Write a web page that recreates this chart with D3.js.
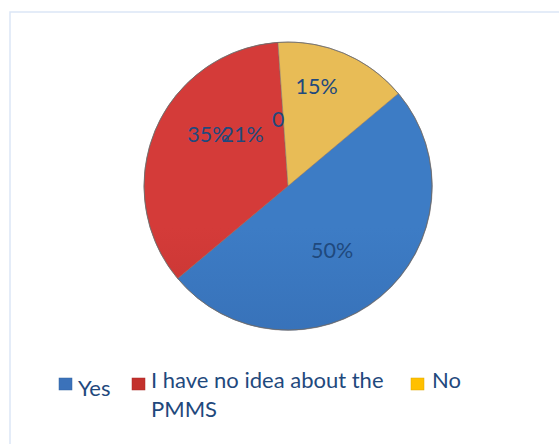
<!DOCTYPE html>
<html>
<head>
<meta charset="utf-8">
<script src="https://cdn.jsdelivr.net/npm/d3@7"></script>
<style>
  html, body { margin: 0; padding: 0; background: #fff; }
  svg { display: block; }
  text { font-family: Lato, "Open Sans", sans-serif; }
</style>
</head>
<body>
<svg id="chart" width="559" height="444"></svg>
<script>
// Survey answers and their shares (%)
const categories = ["Yes", "I have no idea about the PMMS", "No"];
const values = [50, 35, 15];
const valueLabels = ["50%", "35%", "15%"];
// Leftover labels that sit on the red slice
const extraLabels = ["21%", "0"];

const legendLines = [["Yes"], ["I have no idea about the", "PMMS"], ["No"]];

const sliceTop = ["#3d7cc5", "#d43b39", "#e8bc56"];
const sliceBottom = ["#2e61a5", "#ab2a26", "#e2ad45"];
const legendFill = ["#3b72ba", "#c3312d", "#ffc000"];
const textColor = "#1f497d";

const W = 559, H = 444;
const cx = 288, cy = 186, R = 144;
const deg = Math.PI / 180;
const startDeg = 50;

const svg = d3.select("#chart");
const defs = svg.append("defs");

// Frame
svg.append("rect")
  .attr("x", 10).attr("y", 12)
  .attr("width", W + 20).attr("height", H + 20)
  .attr("fill", "none")
  .attr("stroke", "#dbe6f6").attr("stroke-width", 1.5);

// Vertical gradients spanning the whole pie
categories.forEach((c, i) => {
  const g = defs.append("linearGradient")
    .attr("id", "grad" + i)
    .attr("gradientUnits", "userSpaceOnUse")
    .attr("x1", 0).attr("x2", 0)
    .attr("y1", cy - R).attr("y2", cy + R);
  g.append("stop").attr("offset", "0%").attr("stop-color", sliceTop[i]);
  g.append("stop").attr("offset", "100%").attr("stop-color", sliceBottom[i]);
});

const pie = d3.pie()
  .sort(null)
  .value(d => d)
  .startAngle(startDeg * deg)
  .endAngle(startDeg * deg + 2 * Math.PI);

const arcs = pie(values);
const arc = d3.arc().innerRadius(0).outerRadius(R);

const g = svg.append("g").attr("transform", `translate(${cx},${cy})`);

g.selectAll("path.slice")
  .data(arcs)
  .join("path")
  .attr("class", "slice")
  .attr("d", arc)
  .attr("fill", (d, i) => `url(#grad${i})`)
  .attr("stroke", "#7a6a66")
  .attr("stroke-width", 0.5);

// Outer rim
g.append("circle")
  .attr("r", R)
  .attr("fill", "none")
  .attr("stroke", "#6b6b6b")
  .attr("stroke-width", 0.8);

// Value labels, placed on a ring inside each slice
const labelShift = [5.5, 10, -7];      // degrees from slice middle
const labelRadius = [0.54, 0.66, 0.72]; // fraction of R
function polar(angleDeg, rf) {
  const a = angleDeg * deg;
  return [Math.sin(a) * rf * R, -Math.cos(a) * rf * R];
}
g.selectAll("text.val")
  .data(arcs)
  .join("text")
  .attr("class", "val")
  .attr("transform", (d, i) => {
    const mid = (d.startAngle + d.endAngle) / 2 / deg + labelShift[i];
    const [x, y] = polar(mid, labelRadius[i]);
    return `translate(${x},${y})`;
  })
  .attr("text-anchor", "middle")
  .attr("dy", "0.36em")
  .attr("font-size", 21.5)
  .attr("fill", textColor)
  .text((d, i) => valueLabels[i]);

// Stray labels inside the red slice
const extraPos = [[319, 0.48], [351.6, 0.47]];
g.selectAll("text.extra")
  .data(extraLabels)
  .join("text")
  .attr("class", "extra")
  .attr("transform", (d, i) => {
    const [x, y] = polar(extraPos[i][0], extraPos[i][1]);
    return `translate(${x},${y})`;
  })
  .attr("text-anchor", "middle")
  .attr("dy", "0.36em")
  .attr("font-size", 21.5)
  .attr("fill", textColor)
  .text(d => d);

// Legend
const legendX = [59, 132, 411];
const legendTextX = [78, 151, 432];
const legendBaseline = [396, 388, 388];
const lg = svg.append("g");
categories.forEach((c, i) => {
  lg.append("rect")
    .attr("x", legendX[i]).attr("y", 378)
    .attr("width", 13).attr("height", 12)
    .attr("fill", legendFill[i])
    .attr("stroke", d3.color(legendFill[i]).darker(0.4))
    .attr("stroke-width", 0.5);
  const t = lg.append("text")
    .attr("x", legendTextX[i]).attr("y", legendBaseline[i])
    .attr("font-size", 22)
    .attr("fill", textColor);
  legendLines[i].forEach((line, j) => {
    t.append("tspan")
      .attr("x", legendTextX[i])
      .attr("dy", j === 0 ? 0 : 29)
      .text(line);
  });
});
</script>
</body>
</html>
